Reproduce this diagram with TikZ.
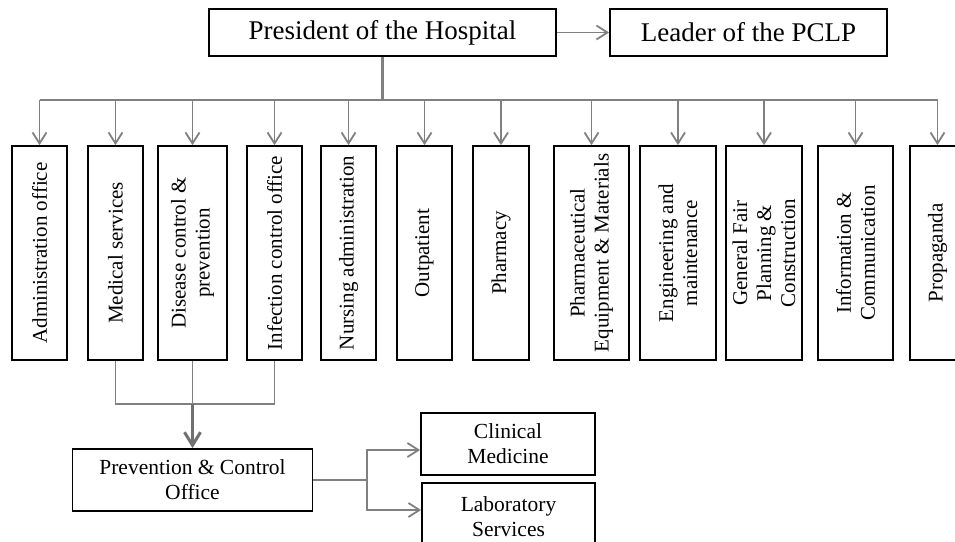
\documentclass[tikz,border=0pt]{standalone}
\usepackage{fontspec}
\setmainfont{Liberation Serif}
\usetikzlibrary{arrows.meta}
\definecolor{lgray}{RGB}{128,128,128}
\definecolor{dgray}{RGB}{112,112,112}
\begin{document}
\begin{tikzpicture}[x=1pt,y=-1pt,
  box/.style={draw=black, line width=1.8pt, inner sep=0pt, fill=white},
  topbox/.style={box, minimum height=47pt, font=\fontsize{27}{32}\selectfont},
  vbox/.style={box, minimum height=214pt},
  vtxt/.style={rotate=90, align=center, inner sep=0pt, font=\fontsize{21}{24}\selectfont},
  lowbox/.style={box, align=center, font=\fontsize{21.5}{25}\selectfont},
  conn/.style={draw=lgray, line width=1.8pt},
  arr/.style={conn, -{Straight Barb[length=11pt,width=14pt]}},
  thickarr/.style={draw=dgray, line width=3pt, -{Straight Barb[length=13pt,width=16pt]}}
]
\clip (0,0) rectangle (955,541);
\fill[white] (0,0) rectangle (955,541);

% top boxes
\node[topbox, minimum width=347pt] (pres) at (382.5,32.5) {President of the Hospital};
\node[topbox, minimum width=277pt] (lead) at (748.5,32.5) {Leader of the PCLP};

% department boxes
\node[vbox, minimum width=55pt] (adm) at (39.5,253) {};
\node[vbox, minimum width=55pt] (med) at (115.5,253) {};
\node[vbox, minimum width=69pt] (dis) at (192.5,253) {};
\node[vbox, minimum width=55pt] (inf) at (274.5,253) {};
\node[vbox, minimum width=55pt] (nur) at (348.5,253) {};
\node[vbox, minimum width=55pt] (out) at (424.5,253) {};
\node[vbox, minimum width=56pt] (pha) at (501,253) {};
\node[vbox, minimum width=75pt] (peq) at (591.5,253) {};
\node[vbox, minimum width=76pt] (eng) at (678,253) {};
\node[vbox, minimum width=76pt] (gen) at (764,253) {};
\node[vbox, minimum width=75pt] (ict) at (855.5,253) {};
\node[vbox, minimum width=55pt] (pro) at (937.5,253) {};

\node[vtxt] (admt) at (adm) {Administration office};
\node[vtxt] (medt) at (med) {Medical services};
\node[vtxt] (dist) at (dis) {Disease control \&\\prevention};
\node[vtxt] (inft) at (inf) {Infection control office};
\node[vtxt] (nurt) at (nur) {Nursing administration};
\node[vtxt] (outt) at (out) {Outpatient};
\node[vtxt] (phat) at (pha) {Pharmacy};
\node[vtxt] (peqt) at (peq) {Pharmaceutical\\Equipment \& Materials};
\node[vtxt] (engt) at (eng) {Engineering and\\maintenance};
\node[vtxt] (gent) at (gen) {General Fair\\Planning \&\\Construction};
\node[vtxt] (ictt) at (ict) {Information \&\\Communication};
\node[vtxt] (prot) at (pro) {Propaganda};

% lower boxes
\node[lowbox, minimum width=240pt, minimum height=62pt] (pre) at (192.5,480) {Prevention \& Control\\Office};
\node[lowbox, minimum width=174pt, minimum height=62pt] (cli) at (508,444) {Clinical\\Medicine};
\node[lowbox, minimum width=173pt, minimum height=67pt] (lab) at (508.5,516.5) {Laboratory\\Services};

% top connectors
\draw[arr] (pres.east) -- (lead.west);
\coordinate (j) at (382.5,100);
\draw[conn, line width=2.6pt] (pres.south) -- (j);
\draw[conn] (adm.north |- j) -- (pro.north |- j);
\foreach \n in {adm,med,dis,inf,nur,out,pha,peq,eng,gen,ict,pro}
  \draw[arr] (\n.north |- j) -- (\n.north);

% lower connectors
\coordinate (m) at (192.5,404);
\draw[conn] (med.south) -- (med.south |- m) -- (inf.south |- m) -- (inf.south);
\draw[conn] (dis.south) -- (m);
\draw[thickarr] (m) -- (pre.north);

\coordinate (br) at (367,480);
\coordinate (bt) at (367,450);
\coordinate (bb) at (367,510);
\draw[conn] (pre.east) -- (br);
\draw[arr] (br) |- (cli.west |- bt);
\draw[arr] (br) |- (lab.west |- bb);
\end{tikzpicture}
\end{document}
